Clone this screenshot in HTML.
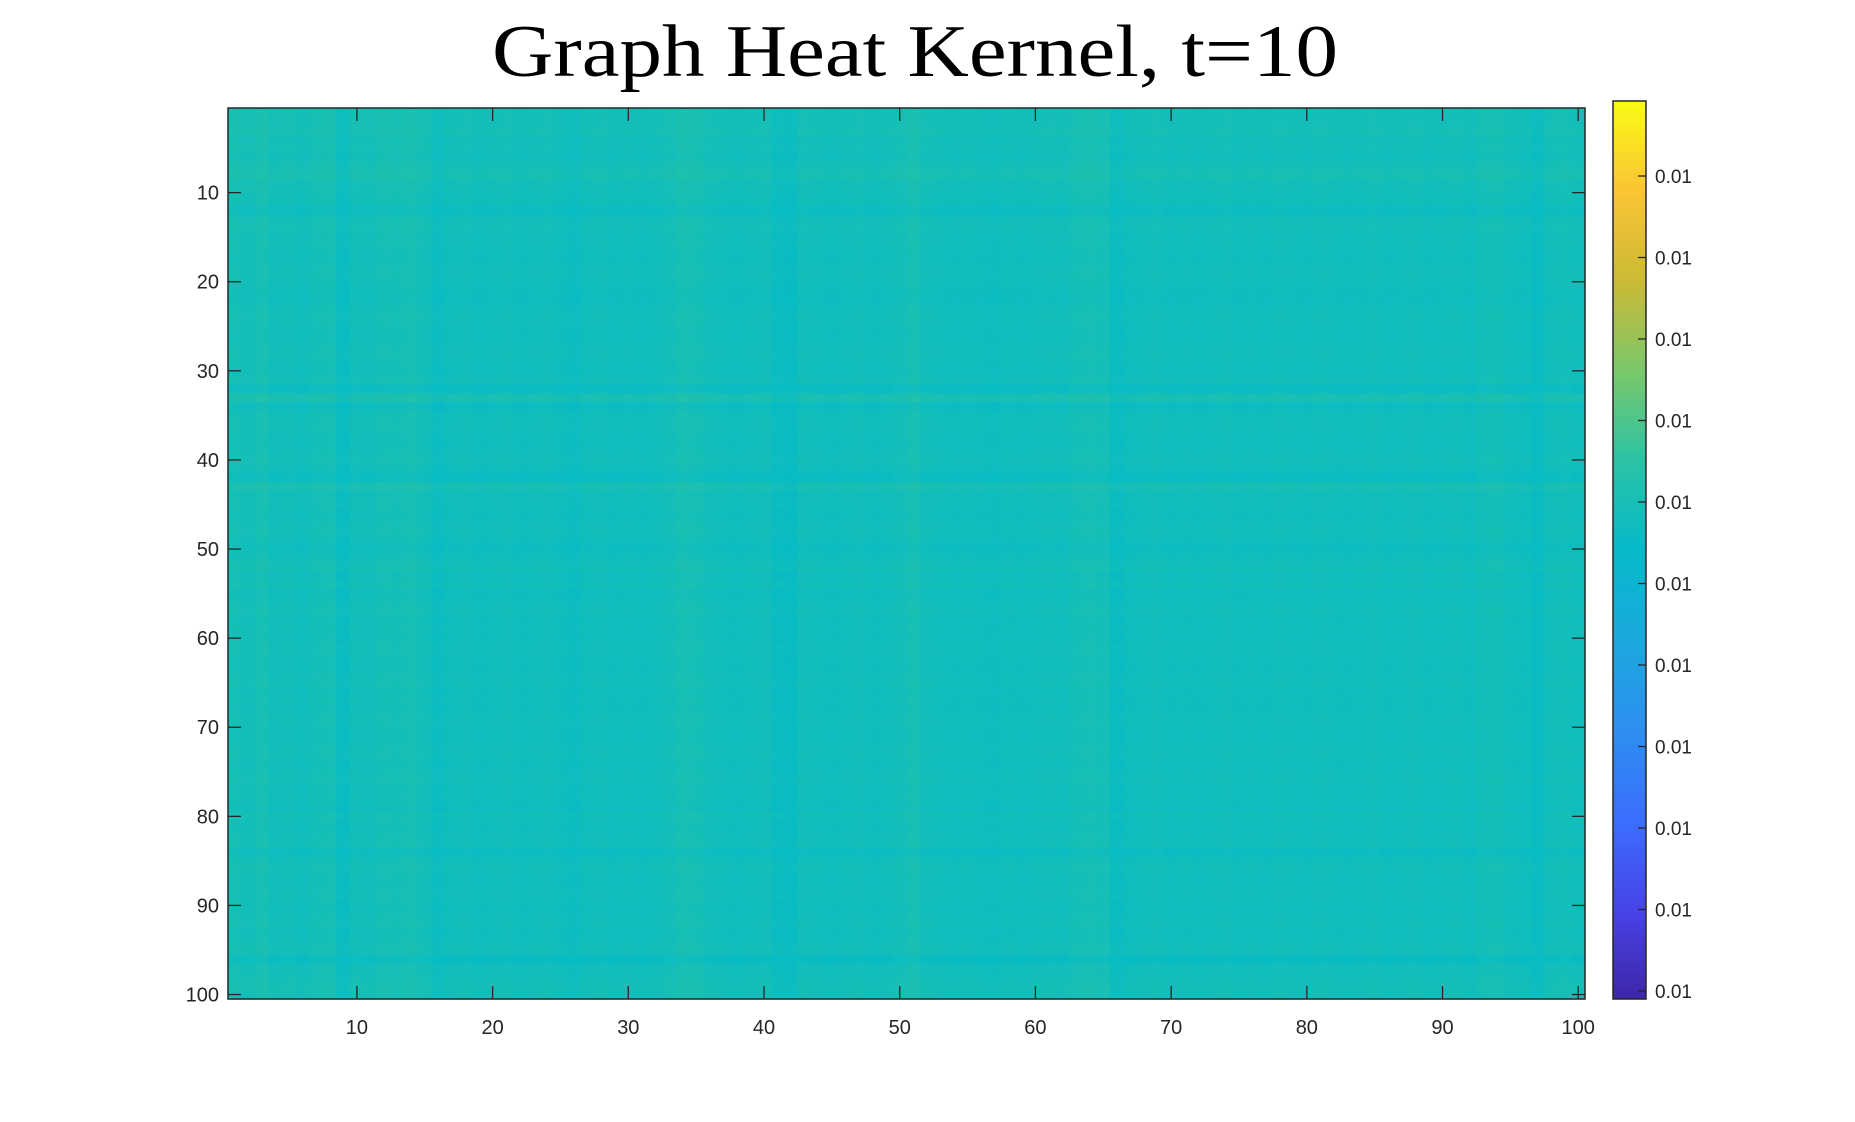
<!DOCTYPE html>
<html><head><meta charset="utf-8">
<style>
html,body{margin:0;padding:0;background:#fff;}
svg{display:block;}
</style></head>
<body>
<svg id="chart" width="1855" height="1122" viewBox="0 0 1855 1122" xmlns="http://www.w3.org/2000/svg">
<text x="915" y="76" text-anchor="middle" font-family="'Liberation Serif', serif" font-size="74" textLength="846" lengthAdjust="spacingAndGlyphs" fill="#000">Graph Heat Kernel, t=10</text>
<g id="cells"></g>
<g id="axes"></g>
<defs>
<linearGradient id="parula" x1="0" y1="1" x2="0" y2="0">
<stop offset="0" stop-color="#3e26a8"/>
<stop offset="0.1" stop-color="#4744e8"/>
<stop offset="0.2" stop-color="#3b6ffd"/>
<stop offset="0.3" stop-color="#2d8ff0"/>
<stop offset="0.4" stop-color="#1ba9de"/>
<stop offset="0.5" stop-color="#06b9c9"/>
<stop offset="0.6" stop-color="#2bc3a5"/>
<stop offset="0.7" stop-color="#7bc86a"/>
<stop offset="0.8" stop-color="#ccba35"/>
<stop offset="0.9" stop-color="#fbc435"/>
<stop offset="1" stop-color="#f9fb14"/>
</linearGradient>
</defs>
<g id="cbar"></g>
</svg>
<script>
const rowEffect = [0.4,0.3,0.5,0.2,0.3,0.1,0.4,0.6,0.3,0.2,0.1,-0.3,0.2,0.3,0.1,0.2,0.0,0.1,0.2,0.1,0.0,-0.1,0.1,0.2,0.1,0.0,0.1,0.2,0.1,0.0,0.2,-0.4,0.6,-0.2,0.1,0.2,0.1,0.0,0.1,0.2,0.0,-0.4,0.5,0.1,0.2,0.0,0.1,0.2,0.0,-0.2,0.1,0.3,0.0,0.2,-0.1,0.1,0.2,0.0,0.1,0.0,0.2,0.1,0.0,0.1,0.2,0.0,0.1,0.0,0.2,0.1,0.0,0.1,0.2,0.0,0.1,0.2,0.0,0.1,-0.1,0.2,0.0,0.1,0.2,-0.3,0.1,0.3,0.0,0.1,0.2,0.0,0.1,0.2,0.0,0.1,0.3,-0.4,0.1,0.2,0.4,0.3];
const colEffect = [0.5,0.3,0.6,0.2,0.3,0.1,0.4,0.5,-0.3,0.3,0.2,0.5,0.4,0.6,0.3,-0.2,0.1,0.2,0.0,0.1,0.2,0.0,0.1,0.2,0.0,-0.2,0.1,0.2,0.0,0.1,0.0,0.1,0.3,0.6,0.5,0.2,0.1,0.0,0.1,0.2,-0.3,-0.4,0.2,0.1,0.0,0.1,0.2,0.0,0.1,0.3,0.6,0.2,0.1,0.0,0.1,0.0,-0.1,0.1,0.0,0.1,0.2,0.1,0.4,0.5,0.4,-0.3,0.0,0.1,0.2,0.0,0.1,0.0,0.1,0.2,0.0,0.1,0.0,0.2,0.1,0.0,0.2,0.1,0.0,0.1,0.2,0.0,0.1,0.2,0.0,0.1,0.2,0.0,0.3,0.4,0.1,0.0,-0.4,0.2,0.3,0.1];
const xTickLabels = ["10","20","30","40","50","60","70","80","90","100"];
const yTickLabels = ["10","20","30","40","50","60","70","80","90","100"];
const cbarTickLabels = ["0.01","0.01","0.01","0.01","0.01","0.01","0.01","0.01","0.01","0.01","0.01"];
const baseValue = 0.0100;

const NS="http://www.w3.org/2000/svg";
const L=228,T=108,R=1585,B=999,N=100;
const cw=(R-L)/N, ch=(B-T)/N;
const xPos=j=>L+(j-0.5)*cw;
const yPos=i=>T+(i-0.5)*ch;
function mk(tag,attrs,parent){const e=document.createElementNS(NS,tag);for(const k in attrs)e.setAttribute(k,attrs[k]);parent.appendChild(e);return e;}
const c1=[8,188,196], c2=[34,193,170];
function color(v){let t=(v+0.35)/1.5;t=Math.max(0,Math.min(1,t));
 return `rgb(${Math.round(c1[0]+(c2[0]-c1[0])*t)},${Math.round(c1[1]+(c2[1]-c1[1])*t)},${Math.round(c1[2]+(c2[2]-c1[2])*t)})`;}
const cells=document.getElementById('cells');
for(let i=0;i<N;i++){for(let j=0;j<N;j++){
 const v=(rowEffect[i]+colEffect[j])/1.3;
 const r=mk('rect',{x:(L+j*cw).toFixed(2),y:(T+i*ch).toFixed(2),width:(cw+0.6).toFixed(2),height:(ch+0.6).toFixed(2),fill:color(v)},cells);
 
 
}}
const ax=document.getElementById('axes');
const frame=mk('rect',{x:L,y:T,width:R-L,height:B-T,fill:'none',stroke:'#262626','stroke-width':1.5},ax);


const font="'Liberation Sans', sans-serif";
xTickLabels.forEach((lab,k)=>{const x=xPos(+lab);
 mk('line',{x1:x,y1:B,x2:x,y2:B-13,stroke:'#262626','stroke-width':1.3},ax);
 mk('line',{x1:x,y1:T,x2:x,y2:T+13,stroke:'#262626','stroke-width':1.3},ax);
 const t=mk('text',{x:x,y:1034,'text-anchor':'middle','font-family':font,'font-size':20,fill:'#262626'},ax);
 t.textContent=lab;
 
 
});
yTickLabels.forEach(lab=>{const y=yPos(+lab);
 mk('line',{x1:L,y1:y,x2:L+13,y2:y,stroke:'#262626','stroke-width':1.3},ax);
 mk('line',{x1:R,y1:y,x2:R-13,y2:y,stroke:'#262626','stroke-width':1.3},ax);
 const t=mk('text',{x:219,y:y+7,'text-anchor':'end','font-family':font,'font-size':20,fill:'#262626'},ax);
 t.textContent=lab;
 
 
});
const cb=document.getElementById('cbar');
const CL=1613,CR=1646,CT=101,CB=999;
const bar=mk('rect',{x:CL,y:CT,width:CR-CL,height:CB-CT,fill:'url(#parula)',stroke:'#262626','stroke-width':1.5},cb);


const cTop=176,cBot=991;
cbarTickLabels.forEach((lab,k)=>{const y=cBot-(cBot-cTop)*k/(cbarTickLabels.length-1);
 mk('line',{x1:CR,y1:y,x2:CR-8,y2:y,stroke:'#262626','stroke-width':1.3},cb);
 const t=mk('text',{x:1655,y:y+7,'font-family':font,'font-size':19,fill:'#262626'},cb);
 t.textContent=lab;
 
 
});
</script>
</body></html>
